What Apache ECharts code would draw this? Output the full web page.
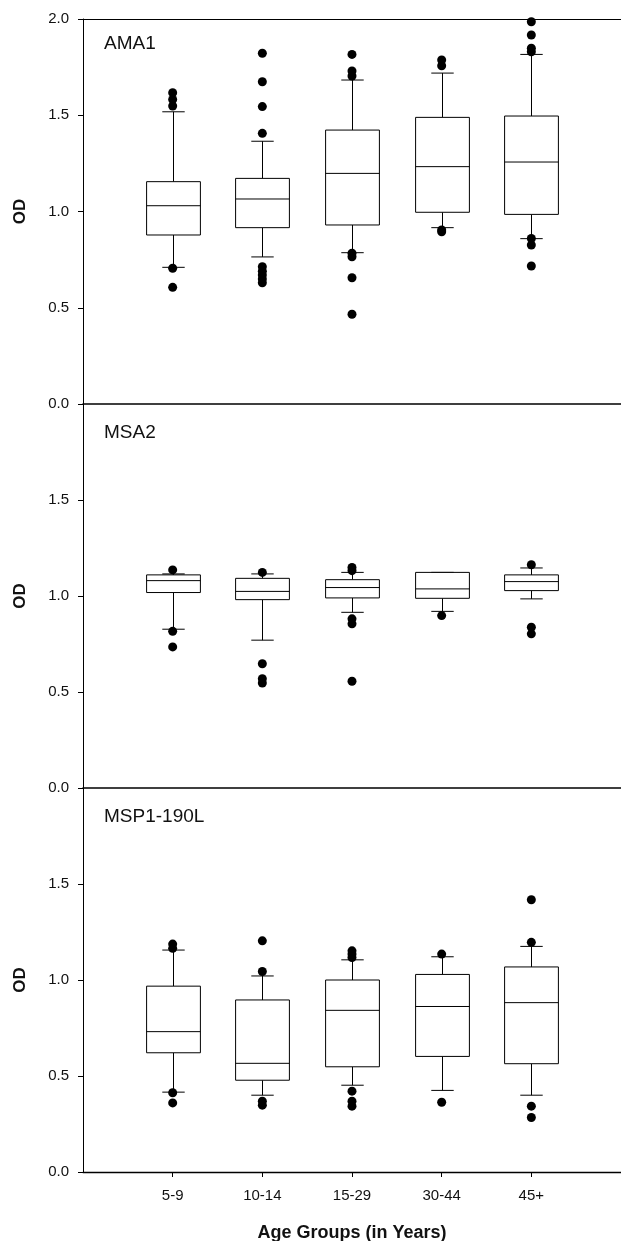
<!DOCTYPE html>
<html>
<head>
<meta charset="utf-8">
<script src="https://cdn.jsdelivr.net/npm/echarts@6/dist/echarts.min.js"></script>
<style>html,body{margin:0;padding:0;background:#fff;overflow:hidden}#c{width:621px;height:1241px}</style>
</head>
<body>
<div id="c"></div>
<script>
// ---- data ----
const categories = ['5-9', '10-14', '15-29', '30-44', '45+'];
const panelNames = ['AMA1', 'MSA2', 'MSP1-190L'];
const yTicks = [0, 0.5, 1.0, 1.5, 2.0];

// [lower whisker, Q1, median, Q3, upper whisker] per age group
const ama1Boxes = [
  [0.71, 0.878, 1.030, 1.155, 1.518],
  [0.764, 0.916, 1.065, 1.172, 1.365],
  [0.786, 0.930, 1.198, 1.423, 1.683],
  [0.916, 0.996, 1.233, 1.489, 1.719],
  [0.859, 0.985, 1.257, 1.496, 1.816]
];
const ama1Outliers = [
  [1.617, 1.582, 1.548, 0.705, 0.606],
  [1.822, 1.674, 1.545, 1.406, 0.713, 0.69, 0.67, 0.65, 0.63],
  [1.816, 1.730, 1.704, 0.783, 0.765, 0.656, 0.466],
  [1.787, 1.757, 0.904, 0.895],
  [1.986, 1.917, 1.848, 1.830, 0.86, 0.826, 0.717]
];
const msa2Boxes = [
  [0.827, 1.018, 1.080, 1.110, 1.115],
  [0.770, 0.981, 1.024, 1.092, 1.115],
  [0.915, 0.990, 1.044, 1.085, 1.123],
  [0.920, 0.988, 1.037, 1.123, 1.123],
  [0.985, 1.028, 1.075, 1.110, 1.146]
];
const msa2Outliers = [
  [1.136, 0.816, 0.735],
  [1.123, 0.647, 0.569, 0.547],
  [1.149, 1.132, 0.881, 0.855, 0.556],
  [0.898],
  [1.163, 0.837, 0.803]
];
const msp1Boxes = [
  [0.416, 0.621, 0.731, 0.968, 1.156],
  [0.400, 0.478, 0.566, 0.896, 1.021],
  [0.452, 0.548, 0.842, 1.000, 1.105],
  [0.425, 0.602, 0.862, 1.029, 1.121],
  [0.400, 0.564, 0.882, 1.068, 1.175]
];
const msp1Outliers = [
  [1.187, 1.165, 0.413, 0.360],
  [1.204, 1.044, 0.369, 0.348],
  [1.152, 1.135, 1.117, 0.421, 0.369, 0.343],
  [1.135, 0.363],
  [1.418, 1.196, 0.343, 0.284]
];

// ---- chart ----
const boxSets = [ama1Boxes, msa2Boxes, msp1Boxes];
const outlierSets = [ama1Outliers, msa2Outliers, msp1Outliers];
const axisCats = [''].concat(categories, ['']);
const FONT = 'Liberation Sans, Arial, sans-serif';
const BLACK = '#000';

const gridTops = [19, 404, 788];
const gridH = [385, 384, 384];

function renderBox(params, api) {
  const x = api.value(0);
  const pLow = api.coord([x, api.value(1)]);
  const pQ1 = api.coord([x, api.value(2)]);
  const pMed = api.coord([x, api.value(3)]);
  const pQ3 = api.coord([x, api.value(4)]);
  const pHigh = api.coord([x, api.value(5)]);
  const band = api.size([1, 0])[0];
  const hw = band * 0.3;
  const cw = band * 0.125;
  const cx = Math.round(pLow[0]) + 0.5;
  const ls = { stroke: BLACK, lineWidth: 1 };
  return {
    type: 'group',
    children: [
      { type: 'line', shape: { x1: cx, y1: pQ3[1], x2: cx, y2: pHigh[1] }, style: ls },
      { type: 'line', shape: { x1: cx, y1: pQ1[1], x2: cx, y2: pLow[1] }, style: ls },
      { type: 'line', shape: { x1: cx - cw, y1: pHigh[1], x2: cx + cw, y2: pHigh[1] }, style: ls },
      { type: 'line', shape: { x1: cx - cw, y1: pLow[1], x2: cx + cw, y2: pLow[1] }, style: ls },
      { type: 'rect', shape: { x: cx - hw, y: pQ3[1], width: 2 * hw, height: pQ1[1] - pQ3[1] }, style: { fill: '#fff', stroke: BLACK, lineWidth: 1 } },
      { type: 'line', shape: { x1: cx - hw, y1: pMed[1], x2: cx + hw, y2: pMed[1] }, style: ls }
    ]
  };
}

const grid = [], xAxis = [], yAxis = [], series = [], title = [];
for (let p = 0; p < 3; p++) {
  grid.push({ left: 83, right: 0, top: gridTops[p], height: gridH[p], outerBoundsMode: 'none', containLabel: false });
  const isLast = p === 2;
  xAxis.push({
    type: 'category', gridIndex: p, data: axisCats, boundaryGap: false,
    axisLine: { show: true, lineStyle: { color: BLACK, width: p === 2 ? 1.3 : 1.5 } },
    axisTick: { show: isLast, length: 5, interval: function (i) { return i >= 1 && i <= categories.length; }, lineStyle: { color: BLACK } },
    axisLabel: { show: isLast, interval: 0, margin: 16, fontSize: 15, color: '#111', fontFamily: FONT },
    splitLine: { show: false },
    name: isLast ? 'Age Groups (in Years)' : '',
    nameLocation: 'middle', nameGap: 52,
    nameTextStyle: { fontSize: 18, fontWeight: 'bold', color: '#111', fontFamily: FONT }
  });
  yAxis.push({
    type: 'value', gridIndex: p, min: yTicks[0], max: yTicks[yTicks.length - 1], interval: 0.5,
    axisLine: { show: true, lineStyle: { color: BLACK, width: 1 } },
    axisTick: { show: true, length: 5, lineStyle: { color: BLACK } },
    axisLabel: {
      fontSize: 15, color: '#111', fontFamily: FONT, margin: 14,
      formatter: function (v) { return (p > 0 && v === 2) ? '' : v.toFixed(1); }
    },
    splitLine: { show: false },
    name: 'OD', nameLocation: 'middle', nameGap: 54,
    nameTextStyle: { fontSize: 17, fontWeight: 'bold', color: '#111', fontFamily: FONT }
  });
  title.push({
    text: panelNames[p], left: 104, top: gridTops[p] + (p === 0 ? 15 : 19), padding: 0,
    textStyle: { fontSize: 19, fontWeight: 'normal', color: '#111', fontFamily: FONT }
  });
  series.push({
    type: 'custom', xAxisIndex: p, yAxisIndex: p, renderItem: renderBox,
    encode: { x: 0, y: [1, 2, 3, 4, 5] },
    data: boxSets[p].map(function (b, i) { return [i + 1].concat(b); }),
    z: 2, silent: true
  });
  const pts = [];
  outlierSets[p].forEach(function (arr, i) { arr.forEach(function (v) { pts.push([i + 1, v]); }); });
  series.push({
    type: 'scatter', xAxisIndex: p, yAxisIndex: p, data: pts,
    symbol: 'circle', symbolSize: 9, itemStyle: { color: BLACK, opacity: 1 }, z: 3, silent: true
  });
}
// top border line for the first panel
xAxis.push({
  type: 'category', gridIndex: 0, position: 'top', data: axisCats, boundaryGap: false,
  axisLine: { show: true, lineStyle: { color: BLACK, width: 1 } },
  axisTick: { show: false }, axisLabel: { show: false }
});

const chart = echarts.init(document.getElementById('c'), null, { renderer: 'canvas' });
chart.setOption({
  backgroundColor: '#fff',
  animation: false,
  title: title,
  grid: grid,
  xAxis: xAxis,
  yAxis: yAxis,
  series: series
});
</script>
</body>
</html>
